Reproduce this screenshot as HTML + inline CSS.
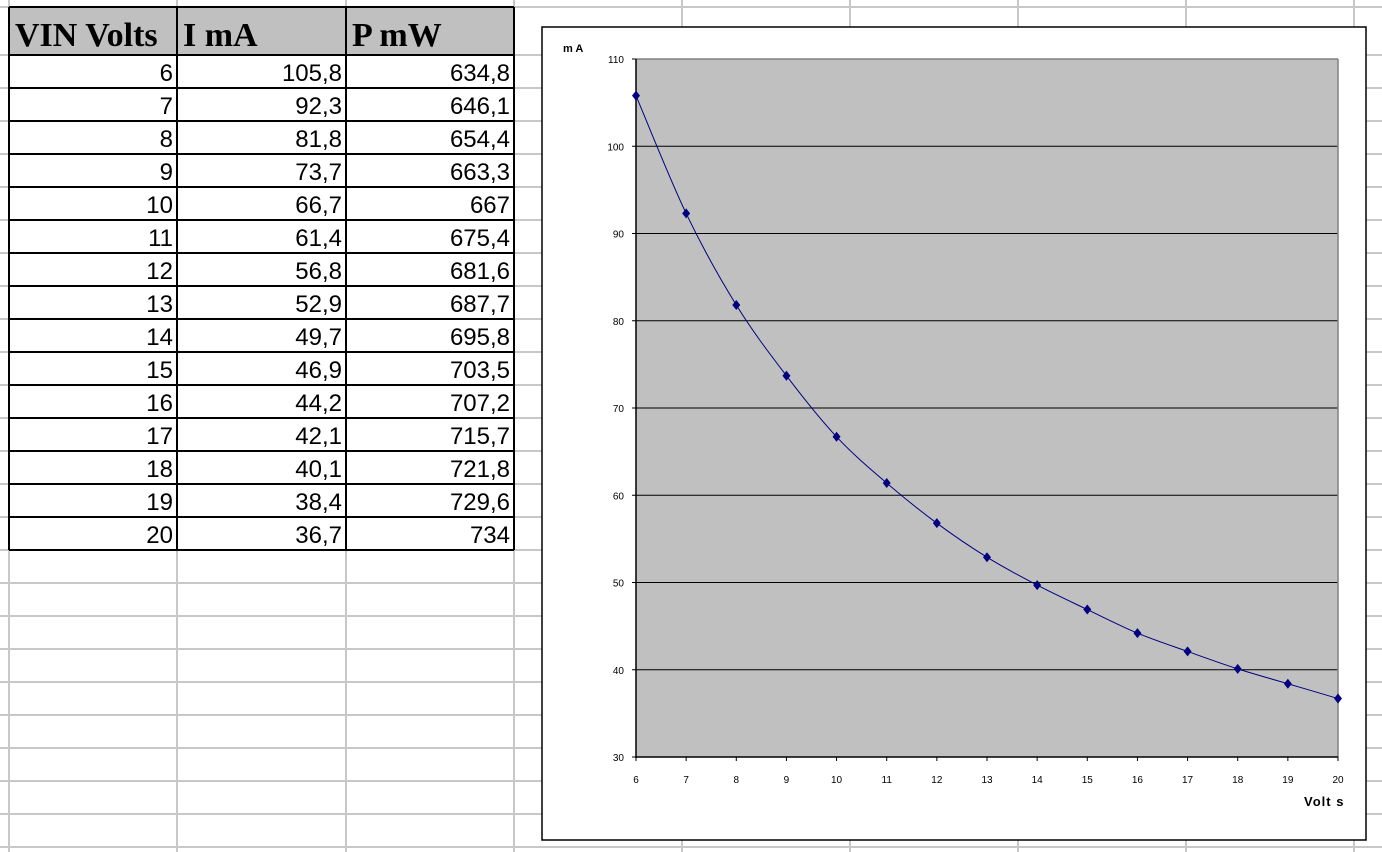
<!DOCTYPE html>
<html><head><meta charset="utf-8"><style>
body{margin:0;background:#fff;width:1382px;height:852px;overflow:hidden;font-family:"Liberation Sans",sans-serif}
svg{display:block}
</style></head><body>
<svg width="1382" height="852">
<g id="grid"></g>
<g id="table"></g>
<rect x="542" y="27" width="824" height="813" fill="#fff" stroke="#000" stroke-width="1.5"/>
<rect x="636" y="59" width="702" height="698" fill="#c0c0c0"/>
<g id="chart"></g>
<text x="563" y="52" font-size="11" font-weight="bold">m A</text>
<text x="1304" y="806" font-size="13" font-weight="bold" letter-spacing="1">Volt s</text>
</svg>
<script>
const volts=[6,7,8,9,10,11,12,13,14,15,16,17,18,19,20];
const currents=[105.8,92.3,81.8,73.7,66.7,61.4,56.8,52.9,49.7,46.9,44.2,42.1,40.1,38.4,36.7];
const power=["634,8","646,1","654,4","663,3","667","675,4","681,6","687,7","695,8","703,5","707,2","715,7","721,8","729,6","734"];
const yTicks=[30,40,50,60,70,80,90,100,110];
const NS="http://www.w3.org/2000/svg";
function mk(t,a,p){const e=document.createElementNS(NS,t);for(const k in a)e.setAttribute(k,a[k]);p.appendChild(e);return e;}
// sheet grid
const grid=document.getElementById('grid');
const colX=[9,177,346,514,682,850,1018,1186,1354];
for(const x of colX){const l=mk('line',{x1:x,y1:0,x2:x,y2:852,stroke:'#c8c8c8','stroke-width':2},grid);

}
for(let y=7;y<852;y+=33){const yy=y<=55?y:(y===40?55:y);}
const rowY=[7];for(let y=55;y<852;y+=33)rowY.push(y);
for(const y of rowY){const l=mk('line',{x1:0,y1:y,x2:1382,y2:y,stroke:'#c8c8c8','stroke-width':2},grid);

}
// table
const tb=document.getElementById('table');
const hdr=mk('rect',{x:9,y:7,width:505,height:48,fill:'#c0c0c0'},tb);


const heads=["VIN Volts","I  mA","P  mW"];
heads.forEach((h,i)=>{const t=mk('text',{x:colX[i]+6,y:46,'font-size':34,'font-weight':'bold','font-family':'Liberation Serif, serif'},tb);t.textContent=h;

});
mk('rect',{x:9,y:7,width:168,height:48,fill:'none'},tb);
volts.forEach((v,i)=>{const y=55+33*i;
const vals=[String(v),String(currents[i]).replace('.',','),power[i]];
vals.forEach((s,j)=>{const t=mk('text',{x:colX[j+1]-4,y:y+26,'font-size':24,'text-anchor':'end'},tb);t.textContent=s;

});});
const tEnd=55+33*volts.length;
for(let y of [7,...volts.map((_,i)=>55+33*i),tEnd]){const l=mk('line',{x1:9,y1:y,x2:514,y2:y,stroke:'#000','stroke-width':2},tb);

}
for(let x of [9,177,346,514]){const l=mk('line',{x1:x,y1:7,x2:x,y2:tEnd,stroke:'#000','stroke-width':2},tb);

}
// chart
const ch=document.getElementById('chart');
const px0=636,px1=1338,py0=757,py1=59;
const X=v=>px0+(v-6)/(20-6)*(px1-px0);
const Y=v=>py0-(v-30)/(110-30)*(py0-py1);
yTicks.forEach(t=>{const y=Y(t);
if(t>30&&t<110){const g=mk('line',{x1:px0,y1:y,x2:px1,y2:y,stroke:'#000','stroke-width':1},ch);

}
const tk=mk('line',{x1:px0-4,y1:y,x2:px0,y2:y,stroke:'#000'},ch);


const lb=mk('text',{x:px0-12,y:y+4,'font-size':10,'text-anchor':'end'},ch);lb.textContent=t;

});
mk('line',{x1:px0,y1:py1,x2:px1,y2:py1,stroke:'#808080','stroke-width':1.5},ch);
mk('line',{x1:px1,y1:py1,x2:px1,y2:py0,stroke:'#808080','stroke-width':1.5},ch);
const ya=mk('line',{x1:px0,y1:py1,x2:px0,y2:py0+1,stroke:'#000','stroke-width':1.5},ch);


const xa=mk('line',{x1:px0,y1:py0,x2:px1,y2:py0,stroke:'#000','stroke-width':1.5},ch);


volts.forEach(v=>{const x=X(v);
const tk=mk('line',{x1:x,y1:py0,x2:x,y2:py0+4,stroke:'#000'},ch);


const lb=mk('text',{x:x,y:py0+26,'font-size':10,'text-anchor':'middle'},ch);lb.textContent=v;

});
// smooth line (Catmull-Rom)
const pts=volts.map((v,i)=>[X(v),Y(currents[i])]);
let d=`M${pts[0][0]},${pts[0][1]}`;
for(let i=0;i<pts.length-1;i++){const p0=pts[Math.max(0,i-1)],p1=pts[i],p2=pts[i+1],p3=pts[Math.min(pts.length-1,i+2)];
d+=` C${p1[0]+(p2[0]-p0[0])/6},${p1[1]+(p2[1]-p0[1])/6} ${p2[0]-(p3[0]-p1[0])/6},${p2[1]-(p3[1]-p1[1])/6} ${p2[0]},${p2[1]}`;}
const ln=mk('path',{d:d,fill:'none',stroke:'#000080','stroke-width':1},ch);


pts.forEach(([x,y])=>{const m=mk('polygon',{points:`${x},${y-5} ${x+4},${y} ${x},${y+5} ${x-4},${y}`,fill:'#000080'},ch);

});
</script>
</body></html>
